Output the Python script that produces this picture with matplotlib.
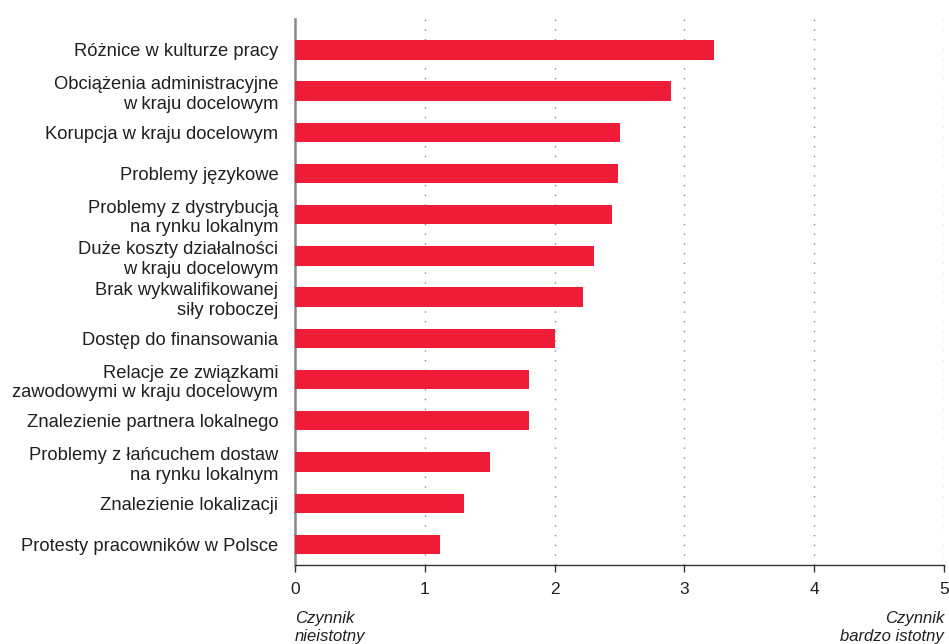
import matplotlib
matplotlib.use("Agg")
import matplotlib.pyplot as plt

categories = [
    "Różnice w kulturze pracy",
    "Obciążenia administracyjne\nw kraju docelowym",
    "Korupcja w kraju docelowym",
    "Problemy językowe",
    "Problemy z dystrybucją\nna rynku lokalnym",
    "Duże koszty działalności\nw kraju docelowym",
    "Brak wykwalifikowanej\nsiły roboczej",
    "Dostęp do finansowania",
    "Relacje ze związkami\nzawodowymi w kraju docelowym",
    "Znalezienie partnera lokalnego",
    "Problemy z łańcuchem dostaw\nna rynku lokalnym",
    "Znalezienie lokalizacji",
    "Protesty pracowników w Polsce",
]
values = [3.23, 2.90, 2.50, 2.49, 2.44, 2.30, 2.22, 2.00, 1.80, 1.80, 1.50, 1.30, 1.12]
xticks = [0, 1, 2, 3, 4, 5]
left_note = "Czynnik\nnieistotny"
right_note = "Czynnik\nbardzo istotny"

plt.rcParams['font.family'] = ['Liberation Sans', 'DejaVu Sans']
txt = '#231f20'

fig = plt.figure(figsize=(9.49, 6.44), dpi=100)
ax = fig.add_axes([295/949, 1-565/644, (944-295)/949, (565-19)/644])

ypos = list(range(len(categories)))
ax.barh(ypos, values, height=0.47, color='#EE1C36', zorder=3)
ax.set_ylim(len(categories)-0.5, -0.75)
ax.set_xlim(0, 5)
ax.set_yticks(ypos)
ax.set_yticklabels(categories, fontsize=13.2, color=txt, linespacing=1.2)
ax.tick_params(axis='y', length=0, pad=12)
ax.set_xticks(xticks)
ax.set_xticklabels([str(t) for t in xticks], fontsize=12.5, color=txt)
ax.tick_params(axis='x', length=5, width=1, color='#333333', pad=7)

for x in xticks[1:]:
    ax.axvline(x, color='#888888', linestyle=(0, (1, 6)), linewidth=1, zorder=1)

for s in ['top', 'right']:
    ax.spines[s].set_visible(False)
ax.spines['left'].set_color('#888888')
ax.spines['left'].set_linewidth(1.8)
ax.spines['bottom'].set_color('#333333')
ax.spines['bottom'].set_linewidth(1)

fig.text(295/949, 1-611/644, left_note, ha='left', va='top', fontsize=12,
         style='italic', color=txt, linespacing=1.25)
fig.text(944/949, 1-611/644, right_note, ha='right', va='top', fontsize=12,
         style='italic', color=txt, linespacing=1.25)

fig.savefig("out.png", dpi=100)
